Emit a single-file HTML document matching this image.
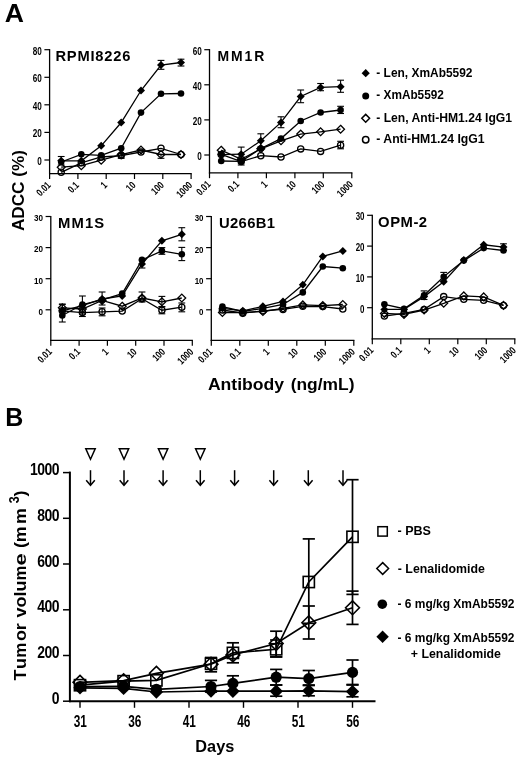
<!DOCTYPE html>
<html><head><meta charset="utf-8"><title>Figure</title>
<style>
html,body{margin:0;padding:0;background:#fff;}
body{width:520px;height:757px;overflow:hidden;font-family:"Liberation Sans",sans-serif;}
svg{display:block;filter:grayscale(1);}
</style></head><body>
<svg width="520" height="757" viewBox="0 0 520 757">
<rect width="520" height="757" fill="#fff"/>
<line x1="49.6" y1="49.1" x2="49.6" y2="174.2" stroke="#000" stroke-width="1.3"/>
<line x1="49.0" y1="173.6" x2="191.7" y2="173.6" stroke="#000" stroke-width="1.3"/>
<line x1="44.4" y1="49.7" x2="49.6" y2="49.7" stroke="#000" stroke-width="1.2"/>
<text x="0" y="0" font-family="Liberation Sans, sans-serif" font-size="10.2" font-weight="bold" text-anchor="end" transform="translate(41.8 54.6) scale(0.8 1)">80</text>
<line x1="44.4" y1="77.3" x2="49.6" y2="77.3" stroke="#000" stroke-width="1.2"/>
<text x="0" y="0" font-family="Liberation Sans, sans-serif" font-size="10.2" font-weight="bold" text-anchor="end" transform="translate(41.8 82.2) scale(0.8 1)">60</text>
<line x1="44.4" y1="104.8" x2="49.6" y2="104.8" stroke="#000" stroke-width="1.2"/>
<text x="0" y="0" font-family="Liberation Sans, sans-serif" font-size="10.2" font-weight="bold" text-anchor="end" transform="translate(41.8 109.7) scale(0.8 1)">40</text>
<line x1="44.4" y1="132.4" x2="49.6" y2="132.4" stroke="#000" stroke-width="1.2"/>
<text x="0" y="0" font-family="Liberation Sans, sans-serif" font-size="10.2" font-weight="bold" text-anchor="end" transform="translate(41.8 137.3) scale(0.8 1)">20</text>
<line x1="44.4" y1="160.0" x2="49.6" y2="160.0" stroke="#000" stroke-width="1.2"/>
<text x="0" y="0" font-family="Liberation Sans, sans-serif" font-size="10.2" font-weight="bold" text-anchor="end" transform="translate(41.8 164.9) scale(0.8 1)">0</text>
<line x1="49.6" y1="173.6" x2="49.6" y2="179.0" stroke="#000" stroke-width="1.2"/>
<text x="0" y="0" font-family="Liberation Sans, sans-serif" font-size="10.3" font-weight="bold" text-anchor="end" transform="translate(51.4 185.8) rotate(-45) scale(0.77 1)">0.01</text>
<line x1="77.9" y1="173.6" x2="77.9" y2="179.0" stroke="#000" stroke-width="1.2"/>
<text x="0" y="0" font-family="Liberation Sans, sans-serif" font-size="10.3" font-weight="bold" text-anchor="end" transform="translate(79.7 185.8) rotate(-45) scale(0.77 1)">0.1</text>
<line x1="106.2" y1="173.6" x2="106.2" y2="179.0" stroke="#000" stroke-width="1.2"/>
<text x="0" y="0" font-family="Liberation Sans, sans-serif" font-size="10.3" font-weight="bold" text-anchor="end" transform="translate(108.0 185.8) rotate(-45) scale(0.77 1)">1</text>
<line x1="134.5" y1="173.6" x2="134.5" y2="179.0" stroke="#000" stroke-width="1.2"/>
<text x="0" y="0" font-family="Liberation Sans, sans-serif" font-size="10.3" font-weight="bold" text-anchor="end" transform="translate(136.3 185.8) rotate(-45) scale(0.77 1)">10</text>
<line x1="162.8" y1="173.6" x2="162.8" y2="179.0" stroke="#000" stroke-width="1.2"/>
<text x="0" y="0" font-family="Liberation Sans, sans-serif" font-size="10.3" font-weight="bold" text-anchor="end" transform="translate(164.6 185.8) rotate(-45) scale(0.77 1)">100</text>
<line x1="191.1" y1="173.6" x2="191.1" y2="179.0" stroke="#000" stroke-width="1.2"/>
<text x="0" y="0" font-family="Liberation Sans, sans-serif" font-size="10.3" font-weight="bold" text-anchor="end" transform="translate(192.9 185.8) rotate(-45) scale(0.77 1)">1000</text>
<text x="0" y="0" font-family="Liberation Sans, sans-serif" font-size="14.7" font-weight="bold" letter-spacing="0.793" transform="translate(55.40 60.90) scale(1.0 1)">RPMI8226</text>
<line x1="121.2" y1="153.5" x2="121.2" y2="158.3" stroke="#000" stroke-width="1.1"/>
<line x1="117.8" y1="153.5" x2="124.6" y2="153.5" stroke="#000" stroke-width="1.1"/>
<line x1="117.8" y1="158.3" x2="124.6" y2="158.3" stroke="#000" stroke-width="1.1"/>
<polyline points="61.2,172.3 81.3,162.8 101.2,157.0 121.2,155.6 141.0,152.0 161.0,148.3 181.0,154.5" fill="none" stroke="#000" stroke-width="1.3"/>
<circle cx="61.2" cy="172.3" r="3.1" fill="none" stroke="#000" stroke-width="1.3"/>
<circle cx="81.3" cy="162.8" r="3.1" fill="none" stroke="#000" stroke-width="1.3"/>
<circle cx="101.2" cy="157.0" r="3.1" fill="none" stroke="#000" stroke-width="1.3"/>
<circle cx="121.2" cy="155.6" r="3.1" fill="none" stroke="#000" stroke-width="1.3"/>
<circle cx="141.0" cy="152.0" r="3.1" fill="none" stroke="#000" stroke-width="1.3"/>
<circle cx="161.0" cy="148.3" r="3.1" fill="none" stroke="#000" stroke-width="1.3"/>
<circle cx="181.0" cy="154.5" r="3.1" fill="none" stroke="#000" stroke-width="1.3"/>
<line x1="161.0" y1="154.5" x2="161.0" y2="158.3" stroke="#000" stroke-width="1.1"/>
<line x1="157.6" y1="154.5" x2="164.4" y2="154.5" stroke="#000" stroke-width="1.1"/>
<line x1="157.6" y1="158.3" x2="164.4" y2="158.3" stroke="#000" stroke-width="1.1"/>
<polyline points="61.2,167.2 81.3,165.7 101.2,160.2 121.2,154.6 141.0,150.0 161.0,154.5 181.0,154.5" fill="none" stroke="#000" stroke-width="1.3"/>
<path d="M61.2 163.3L65.1 167.2L61.2 171.1L57.3 167.2Z" fill="none" stroke="#000" stroke-width="1.3"/>
<path d="M81.3 161.8L85.2 165.7L81.3 169.6L77.4 165.7Z" fill="none" stroke="#000" stroke-width="1.3"/>
<path d="M101.2 156.3L105.1 160.2L101.2 164.1L97.3 160.2Z" fill="none" stroke="#000" stroke-width="1.3"/>
<path d="M121.2 150.7L125.1 154.6L121.2 158.5L117.3 154.6Z" fill="none" stroke="#000" stroke-width="1.3"/>
<path d="M141.0 146.1L144.9 150.0L141.0 153.9L137.1 150.0Z" fill="none" stroke="#000" stroke-width="1.3"/>
<path d="M161.0 150.6L164.9 154.5L161.0 158.4L157.1 154.5Z" fill="none" stroke="#000" stroke-width="1.3"/>
<path d="M181.0 150.6L184.9 154.5L181.0 158.4L177.1 154.5Z" fill="none" stroke="#000" stroke-width="1.3"/>
<polyline points="61.2,162.0 81.3,154.3 101.2,155.4 121.2,148.2 141.0,112.6 161.0,93.8 181.0,93.5" fill="none" stroke="#000" stroke-width="1.3"/>
<circle cx="61.2" cy="162.0" r="3.3" fill="#000"/>
<circle cx="81.3" cy="154.3" r="3.3" fill="#000"/>
<circle cx="101.2" cy="155.4" r="3.3" fill="#000"/>
<circle cx="121.2" cy="148.2" r="3.3" fill="#000"/>
<circle cx="141.0" cy="112.6" r="3.3" fill="#000"/>
<circle cx="161.0" cy="93.8" r="3.3" fill="#000"/>
<circle cx="181.0" cy="93.5" r="3.3" fill="#000"/>
<line x1="61.2" y1="156.5" x2="61.2" y2="165.0" stroke="#000" stroke-width="1.1"/>
<line x1="57.8" y1="156.5" x2="64.6" y2="156.5" stroke="#000" stroke-width="1.1"/>
<line x1="57.8" y1="165.0" x2="64.6" y2="165.0" stroke="#000" stroke-width="1.1"/>
<line x1="161.0" y1="60.4" x2="161.0" y2="69.3" stroke="#000" stroke-width="1.1"/>
<line x1="157.6" y1="60.4" x2="164.4" y2="60.4" stroke="#000" stroke-width="1.1"/>
<line x1="157.6" y1="69.3" x2="164.4" y2="69.3" stroke="#000" stroke-width="1.1"/>
<line x1="181.0" y1="59.2" x2="181.0" y2="66.0" stroke="#000" stroke-width="1.1"/>
<line x1="177.6" y1="59.2" x2="184.4" y2="59.2" stroke="#000" stroke-width="1.1"/>
<line x1="177.6" y1="66.0" x2="184.4" y2="66.0" stroke="#000" stroke-width="1.1"/>
<polyline points="61.2,160.8 81.3,160.8 101.2,145.8 121.2,122.5 141.0,90.5 161.0,65.0 181.0,62.5" fill="none" stroke="#000" stroke-width="1.3"/>
<path d="M61.2 156.8L65.2 160.8L61.2 164.8L57.2 160.8Z" fill="#000"/>
<path d="M81.3 156.8L85.3 160.8L81.3 164.8L77.3 160.8Z" fill="#000"/>
<path d="M101.2 141.8L105.2 145.8L101.2 149.8L97.2 145.8Z" fill="#000"/>
<path d="M121.2 118.5L125.2 122.5L121.2 126.5L117.2 122.5Z" fill="#000"/>
<path d="M141.0 86.5L145.0 90.5L141.0 94.5L137.0 90.5Z" fill="#000"/>
<path d="M161.0 61.0L165.0 65.0L161.0 69.0L157.0 65.0Z" fill="#000"/>
<path d="M181.0 58.5L185.0 62.5L181.0 66.5L177.0 62.5Z" fill="#000"/>
<line x1="209.5" y1="49.1" x2="209.5" y2="173.4" stroke="#000" stroke-width="1.3"/>
<line x1="208.9" y1="172.8" x2="352.4" y2="172.8" stroke="#000" stroke-width="1.3"/>
<line x1="204.3" y1="49.7" x2="209.5" y2="49.7" stroke="#000" stroke-width="1.2"/>
<text x="0" y="0" font-family="Liberation Sans, sans-serif" font-size="10.2" font-weight="bold" text-anchor="end" transform="translate(201.7 54.6) scale(0.8 1)">60</text>
<line x1="204.3" y1="84.8" x2="209.5" y2="84.8" stroke="#000" stroke-width="1.2"/>
<text x="0" y="0" font-family="Liberation Sans, sans-serif" font-size="10.2" font-weight="bold" text-anchor="end" transform="translate(201.7 89.7) scale(0.8 1)">40</text>
<line x1="204.3" y1="119.9" x2="209.5" y2="119.9" stroke="#000" stroke-width="1.2"/>
<text x="0" y="0" font-family="Liberation Sans, sans-serif" font-size="10.2" font-weight="bold" text-anchor="end" transform="translate(201.7 124.8) scale(0.8 1)">20</text>
<line x1="204.3" y1="155.0" x2="209.5" y2="155.0" stroke="#000" stroke-width="1.2"/>
<text x="0" y="0" font-family="Liberation Sans, sans-serif" font-size="10.2" font-weight="bold" text-anchor="end" transform="translate(201.7 159.9) scale(0.8 1)">0</text>
<line x1="209.5" y1="172.8" x2="209.5" y2="178.2" stroke="#000" stroke-width="1.2"/>
<text x="0" y="0" font-family="Liberation Sans, sans-serif" font-size="10.3" font-weight="bold" text-anchor="end" transform="translate(211.3 185.0) rotate(-45) scale(0.77 1)">0.01</text>
<line x1="237.9" y1="172.8" x2="237.9" y2="178.2" stroke="#000" stroke-width="1.2"/>
<text x="0" y="0" font-family="Liberation Sans, sans-serif" font-size="10.3" font-weight="bold" text-anchor="end" transform="translate(239.8 185.0) rotate(-45) scale(0.77 1)">0.1</text>
<line x1="266.4" y1="172.8" x2="266.4" y2="178.2" stroke="#000" stroke-width="1.2"/>
<text x="0" y="0" font-family="Liberation Sans, sans-serif" font-size="10.3" font-weight="bold" text-anchor="end" transform="translate(268.2 185.0) rotate(-45) scale(0.77 1)">1</text>
<line x1="294.9" y1="172.8" x2="294.9" y2="178.2" stroke="#000" stroke-width="1.2"/>
<text x="0" y="0" font-family="Liberation Sans, sans-serif" font-size="10.3" font-weight="bold" text-anchor="end" transform="translate(296.7 185.0) rotate(-45) scale(0.77 1)">10</text>
<line x1="323.3" y1="172.8" x2="323.3" y2="178.2" stroke="#000" stroke-width="1.2"/>
<text x="0" y="0" font-family="Liberation Sans, sans-serif" font-size="10.3" font-weight="bold" text-anchor="end" transform="translate(325.1 185.0) rotate(-45) scale(0.77 1)">100</text>
<line x1="351.8" y1="172.8" x2="351.8" y2="178.2" stroke="#000" stroke-width="1.2"/>
<text x="0" y="0" font-family="Liberation Sans, sans-serif" font-size="10.3" font-weight="bold" text-anchor="end" transform="translate(353.6 185.0) rotate(-45) scale(0.77 1)">1000</text>
<text x="0" y="0" font-family="Liberation Sans, sans-serif" font-size="14.7" font-weight="bold" letter-spacing="2.064" transform="translate(217.40 61.10) scale(0.95 1)">MM1R</text>
<line x1="340.6" y1="141.3" x2="340.6" y2="148.8" stroke="#000" stroke-width="1.1"/>
<line x1="337.2" y1="141.3" x2="344.0" y2="141.3" stroke="#000" stroke-width="1.1"/>
<line x1="337.2" y1="148.8" x2="344.0" y2="148.8" stroke="#000" stroke-width="1.1"/>
<polyline points="221.2,154.4 241.2,161.6 260.8,155.7 281.0,157.0 300.7,148.9 320.6,151.4 340.6,145.2" fill="none" stroke="#000" stroke-width="1.3"/>
<circle cx="221.2" cy="154.4" r="3.1" fill="none" stroke="#000" stroke-width="1.3"/>
<circle cx="241.2" cy="161.6" r="3.1" fill="none" stroke="#000" stroke-width="1.3"/>
<circle cx="260.8" cy="155.7" r="3.1" fill="none" stroke="#000" stroke-width="1.3"/>
<circle cx="281.0" cy="157.0" r="3.1" fill="none" stroke="#000" stroke-width="1.3"/>
<circle cx="300.7" cy="148.9" r="3.1" fill="none" stroke="#000" stroke-width="1.3"/>
<circle cx="320.6" cy="151.4" r="3.1" fill="none" stroke="#000" stroke-width="1.3"/>
<circle cx="340.6" cy="145.2" r="3.1" fill="none" stroke="#000" stroke-width="1.3"/>
<polyline points="221.2,150.2 241.2,159.3 260.8,148.8 281.0,140.8 300.7,134.1 320.6,131.8 340.6,129.2" fill="none" stroke="#000" stroke-width="1.3"/>
<path d="M221.2 146.3L225.1 150.2L221.2 154.1L217.3 150.2Z" fill="none" stroke="#000" stroke-width="1.3"/>
<path d="M241.2 155.4L245.1 159.3L241.2 163.2L237.3 159.3Z" fill="none" stroke="#000" stroke-width="1.3"/>
<path d="M260.8 144.9L264.7 148.8L260.8 152.7L256.9 148.8Z" fill="none" stroke="#000" stroke-width="1.3"/>
<path d="M281.0 136.9L284.9 140.8L281.0 144.7L277.1 140.8Z" fill="none" stroke="#000" stroke-width="1.3"/>
<path d="M300.7 130.2L304.6 134.1L300.7 138.0L296.8 134.1Z" fill="none" stroke="#000" stroke-width="1.3"/>
<path d="M320.6 127.9L324.5 131.8L320.6 135.7L316.7 131.8Z" fill="none" stroke="#000" stroke-width="1.3"/>
<path d="M340.6 125.3L344.5 129.2L340.6 133.1L336.7 129.2Z" fill="none" stroke="#000" stroke-width="1.3"/>
<line x1="340.6" y1="106.3" x2="340.6" y2="113.5" stroke="#000" stroke-width="1.1"/>
<line x1="337.2" y1="106.3" x2="344.0" y2="106.3" stroke="#000" stroke-width="1.1"/>
<line x1="337.2" y1="113.5" x2="344.0" y2="113.5" stroke="#000" stroke-width="1.1"/>
<line x1="241.2" y1="157.0" x2="241.2" y2="165.0" stroke="#000" stroke-width="1.1"/>
<line x1="237.8" y1="157.0" x2="244.6" y2="157.0" stroke="#000" stroke-width="1.1"/>
<line x1="237.8" y1="165.0" x2="244.6" y2="165.0" stroke="#000" stroke-width="1.1"/>
<polyline points="221.2,161.0 241.2,161.3 260.8,148.5 281.0,138.6 300.7,121.0 320.6,112.5 340.6,110.0" fill="none" stroke="#000" stroke-width="1.3"/>
<circle cx="221.2" cy="161.0" r="3.3" fill="#000"/>
<circle cx="241.2" cy="161.3" r="3.3" fill="#000"/>
<circle cx="260.8" cy="148.5" r="3.3" fill="#000"/>
<circle cx="281.0" cy="138.6" r="3.3" fill="#000"/>
<circle cx="300.7" cy="121.0" r="3.3" fill="#000"/>
<circle cx="320.6" cy="112.5" r="3.3" fill="#000"/>
<circle cx="340.6" cy="110.0" r="3.3" fill="#000"/>
<line x1="241.2" y1="147.1" x2="241.2" y2="160.0" stroke="#000" stroke-width="1.1"/>
<line x1="237.8" y1="147.1" x2="244.6" y2="147.1" stroke="#000" stroke-width="1.1"/>
<line x1="237.8" y1="160.0" x2="244.6" y2="160.0" stroke="#000" stroke-width="1.1"/>
<line x1="260.8" y1="133.8" x2="260.8" y2="147.0" stroke="#000" stroke-width="1.1"/>
<line x1="257.4" y1="133.8" x2="264.2" y2="133.8" stroke="#000" stroke-width="1.1"/>
<line x1="257.4" y1="147.0" x2="264.2" y2="147.0" stroke="#000" stroke-width="1.1"/>
<line x1="281.0" y1="116.8" x2="281.0" y2="127.7" stroke="#000" stroke-width="1.1"/>
<line x1="277.6" y1="116.8" x2="284.4" y2="116.8" stroke="#000" stroke-width="1.1"/>
<line x1="277.6" y1="127.7" x2="284.4" y2="127.7" stroke="#000" stroke-width="1.1"/>
<line x1="300.7" y1="90.0" x2="300.7" y2="102.7" stroke="#000" stroke-width="1.1"/>
<line x1="297.3" y1="90.0" x2="304.1" y2="90.0" stroke="#000" stroke-width="1.1"/>
<line x1="297.3" y1="102.7" x2="304.1" y2="102.7" stroke="#000" stroke-width="1.1"/>
<line x1="320.6" y1="83.5" x2="320.6" y2="90.7" stroke="#000" stroke-width="1.1"/>
<line x1="317.2" y1="83.5" x2="324.0" y2="83.5" stroke="#000" stroke-width="1.1"/>
<line x1="317.2" y1="90.7" x2="324.0" y2="90.7" stroke="#000" stroke-width="1.1"/>
<line x1="340.6" y1="80.2" x2="340.6" y2="92.3" stroke="#000" stroke-width="1.1"/>
<line x1="337.2" y1="80.2" x2="344.0" y2="80.2" stroke="#000" stroke-width="1.1"/>
<line x1="337.2" y1="92.3" x2="344.0" y2="92.3" stroke="#000" stroke-width="1.1"/>
<polyline points="221.2,154.6 241.2,154.2 260.8,140.8 281.0,122.4 300.7,96.5 320.6,87.4 340.6,86.7" fill="none" stroke="#000" stroke-width="1.3"/>
<path d="M221.2 150.6L225.2 154.6L221.2 158.6L217.2 154.6Z" fill="#000"/>
<path d="M241.2 150.2L245.2 154.2L241.2 158.2L237.2 154.2Z" fill="#000"/>
<path d="M260.8 136.8L264.8 140.8L260.8 144.8L256.8 140.8Z" fill="#000"/>
<path d="M281.0 118.4L285.0 122.4L281.0 126.4L277.0 122.4Z" fill="#000"/>
<path d="M300.7 92.5L304.7 96.5L300.7 100.5L296.7 96.5Z" fill="#000"/>
<path d="M320.6 83.4L324.6 87.4L320.6 91.4L316.6 87.4Z" fill="#000"/>
<path d="M340.6 82.7L344.6 86.7L340.6 90.7L336.6 86.7Z" fill="#000"/>
<line x1="50.8" y1="215.9" x2="50.8" y2="340.9" stroke="#000" stroke-width="1.3"/>
<line x1="50.2" y1="340.3" x2="192.9" y2="340.3" stroke="#000" stroke-width="1.3"/>
<line x1="45.6" y1="216.5" x2="50.8" y2="216.5" stroke="#000" stroke-width="1.2"/>
<text x="0" y="0" font-family="Liberation Sans, sans-serif" font-size="9.4" font-weight="bold" text-anchor="end" transform="translate(43.0 221.3) scale(0.86 1)">30</text>
<line x1="45.6" y1="247.6" x2="50.8" y2="247.6" stroke="#000" stroke-width="1.2"/>
<text x="0" y="0" font-family="Liberation Sans, sans-serif" font-size="9.4" font-weight="bold" text-anchor="end" transform="translate(43.0 252.4) scale(0.86 1)">20</text>
<line x1="45.6" y1="278.7" x2="50.8" y2="278.7" stroke="#000" stroke-width="1.2"/>
<text x="0" y="0" font-family="Liberation Sans, sans-serif" font-size="9.4" font-weight="bold" text-anchor="end" transform="translate(43.0 283.5) scale(0.86 1)">10</text>
<line x1="45.6" y1="309.8" x2="50.8" y2="309.8" stroke="#000" stroke-width="1.2"/>
<text x="0" y="0" font-family="Liberation Sans, sans-serif" font-size="9.4" font-weight="bold" text-anchor="end" transform="translate(43.0 314.6) scale(0.86 1)">0</text>
<line x1="50.8" y1="340.3" x2="50.8" y2="345.7" stroke="#000" stroke-width="1.2"/>
<text x="0" y="0" font-family="Liberation Sans, sans-serif" font-size="10.3" font-weight="bold" text-anchor="end" transform="translate(52.6 352.5) rotate(-45) scale(0.77 1)">0.01</text>
<line x1="79.1" y1="340.3" x2="79.1" y2="345.7" stroke="#000" stroke-width="1.2"/>
<text x="0" y="0" font-family="Liberation Sans, sans-serif" font-size="10.3" font-weight="bold" text-anchor="end" transform="translate(80.9 352.5) rotate(-45) scale(0.77 1)">0.1</text>
<line x1="107.4" y1="340.3" x2="107.4" y2="345.7" stroke="#000" stroke-width="1.2"/>
<text x="0" y="0" font-family="Liberation Sans, sans-serif" font-size="10.3" font-weight="bold" text-anchor="end" transform="translate(109.2 352.5) rotate(-45) scale(0.77 1)">1</text>
<line x1="135.7" y1="340.3" x2="135.7" y2="345.7" stroke="#000" stroke-width="1.2"/>
<text x="0" y="0" font-family="Liberation Sans, sans-serif" font-size="10.3" font-weight="bold" text-anchor="end" transform="translate(137.5 352.5) rotate(-45) scale(0.77 1)">10</text>
<line x1="164.0" y1="340.3" x2="164.0" y2="345.7" stroke="#000" stroke-width="1.2"/>
<text x="0" y="0" font-family="Liberation Sans, sans-serif" font-size="10.3" font-weight="bold" text-anchor="end" transform="translate(165.8 352.5) rotate(-45) scale(0.77 1)">100</text>
<line x1="192.3" y1="340.3" x2="192.3" y2="345.7" stroke="#000" stroke-width="1.2"/>
<text x="0" y="0" font-family="Liberation Sans, sans-serif" font-size="10.3" font-weight="bold" text-anchor="end" transform="translate(194.1 352.5) rotate(-45) scale(0.77 1)">1000</text>
<text x="0" y="0" font-family="Liberation Sans, sans-serif" font-size="14" font-weight="bold" letter-spacing="1.108" transform="translate(57.90 227.50) scale(1.06 1)">MM1S</text>
<line x1="82.4" y1="309.0" x2="82.4" y2="316.5" stroke="#000" stroke-width="1.1"/>
<line x1="79.0" y1="309.0" x2="85.8" y2="309.0" stroke="#000" stroke-width="1.1"/>
<line x1="79.0" y1="316.5" x2="85.8" y2="316.5" stroke="#000" stroke-width="1.1"/>
<line x1="102.1" y1="308.0" x2="102.1" y2="315.8" stroke="#000" stroke-width="1.1"/>
<line x1="98.7" y1="308.0" x2="105.5" y2="308.0" stroke="#000" stroke-width="1.1"/>
<line x1="98.7" y1="315.8" x2="105.5" y2="315.8" stroke="#000" stroke-width="1.1"/>
<line x1="142.0" y1="292.0" x2="142.0" y2="302.0" stroke="#000" stroke-width="1.1"/>
<line x1="138.6" y1="292.0" x2="145.4" y2="292.0" stroke="#000" stroke-width="1.1"/>
<line x1="138.6" y1="302.0" x2="145.4" y2="302.0" stroke="#000" stroke-width="1.1"/>
<line x1="161.9" y1="306.5" x2="161.9" y2="313.8" stroke="#000" stroke-width="1.1"/>
<line x1="158.5" y1="306.5" x2="165.3" y2="306.5" stroke="#000" stroke-width="1.1"/>
<line x1="158.5" y1="313.8" x2="165.3" y2="313.8" stroke="#000" stroke-width="1.1"/>
<line x1="181.8" y1="303.0" x2="181.8" y2="311.8" stroke="#000" stroke-width="1.1"/>
<line x1="178.4" y1="303.0" x2="185.2" y2="303.0" stroke="#000" stroke-width="1.1"/>
<line x1="178.4" y1="311.8" x2="185.2" y2="311.8" stroke="#000" stroke-width="1.1"/>
<polyline points="62.3,310.8 82.4,312.6 102.1,311.8 122.2,311.1 142.0,298.7 161.9,310.2 181.8,307.2" fill="none" stroke="#000" stroke-width="1.3"/>
<circle cx="62.3" cy="310.8" r="3.1" fill="none" stroke="#000" stroke-width="1.3"/>
<circle cx="82.4" cy="312.6" r="3.1" fill="none" stroke="#000" stroke-width="1.3"/>
<circle cx="102.1" cy="311.8" r="3.1" fill="none" stroke="#000" stroke-width="1.3"/>
<circle cx="122.2" cy="311.1" r="3.1" fill="none" stroke="#000" stroke-width="1.3"/>
<circle cx="142.0" cy="298.7" r="3.1" fill="none" stroke="#000" stroke-width="1.3"/>
<circle cx="161.9" cy="310.2" r="3.1" fill="none" stroke="#000" stroke-width="1.3"/>
<circle cx="181.8" cy="307.2" r="3.1" fill="none" stroke="#000" stroke-width="1.3"/>
<line x1="161.9" y1="296.4" x2="161.9" y2="307.0" stroke="#000" stroke-width="1.1"/>
<line x1="158.5" y1="296.4" x2="165.3" y2="296.4" stroke="#000" stroke-width="1.1"/>
<line x1="158.5" y1="307.0" x2="165.3" y2="307.0" stroke="#000" stroke-width="1.1"/>
<line x1="62.3" y1="304.0" x2="62.3" y2="311.5" stroke="#000" stroke-width="1.1"/>
<line x1="58.9" y1="304.0" x2="65.7" y2="304.0" stroke="#000" stroke-width="1.1"/>
<line x1="58.9" y1="311.5" x2="65.7" y2="311.5" stroke="#000" stroke-width="1.1"/>
<polyline points="62.3,307.8 82.4,309.0 102.1,300.4 122.2,306.2 142.0,298.0 161.9,301.8 181.8,298.0" fill="none" stroke="#000" stroke-width="1.3"/>
<path d="M62.3 303.9L66.2 307.8L62.3 311.7L58.4 307.8Z" fill="none" stroke="#000" stroke-width="1.3"/>
<path d="M82.4 305.1L86.3 309.0L82.4 312.9L78.5 309.0Z" fill="none" stroke="#000" stroke-width="1.3"/>
<path d="M102.1 296.5L106.0 300.4L102.1 304.3L98.2 300.4Z" fill="none" stroke="#000" stroke-width="1.3"/>
<path d="M122.2 302.3L126.1 306.2L122.2 310.1L118.3 306.2Z" fill="none" stroke="#000" stroke-width="1.3"/>
<path d="M142.0 294.1L145.9 298.0L142.0 301.9L138.1 298.0Z" fill="none" stroke="#000" stroke-width="1.3"/>
<path d="M161.9 297.9L165.8 301.8L161.9 305.7L158.0 301.8Z" fill="none" stroke="#000" stroke-width="1.3"/>
<path d="M181.8 294.1L185.7 298.0L181.8 301.9L177.9 298.0Z" fill="none" stroke="#000" stroke-width="1.3"/>
<line x1="62.3" y1="304.6" x2="62.3" y2="322.0" stroke="#000" stroke-width="1.1"/>
<line x1="58.9" y1="304.6" x2="65.7" y2="304.6" stroke="#000" stroke-width="1.1"/>
<line x1="58.9" y1="322.0" x2="65.7" y2="322.0" stroke="#000" stroke-width="1.1"/>
<line x1="161.9" y1="247.6" x2="161.9" y2="254.3" stroke="#000" stroke-width="1.1"/>
<line x1="158.5" y1="247.6" x2="165.3" y2="247.6" stroke="#000" stroke-width="1.1"/>
<line x1="158.5" y1="254.3" x2="165.3" y2="254.3" stroke="#000" stroke-width="1.1"/>
<line x1="181.8" y1="247.4" x2="181.8" y2="260.6" stroke="#000" stroke-width="1.1"/>
<line x1="178.4" y1="247.4" x2="185.2" y2="247.4" stroke="#000" stroke-width="1.1"/>
<line x1="178.4" y1="260.6" x2="185.2" y2="260.6" stroke="#000" stroke-width="1.1"/>
<polyline points="62.3,315.5 82.4,304.5 102.1,299.8 122.2,293.6 142.0,259.9 161.9,250.9 181.8,254.3" fill="none" stroke="#000" stroke-width="1.3"/>
<circle cx="62.3" cy="315.5" r="3.3" fill="#000"/>
<circle cx="82.4" cy="304.5" r="3.3" fill="#000"/>
<circle cx="102.1" cy="299.8" r="3.3" fill="#000"/>
<circle cx="122.2" cy="293.6" r="3.3" fill="#000"/>
<circle cx="142.0" cy="259.9" r="3.3" fill="#000"/>
<circle cx="161.9" cy="250.9" r="3.3" fill="#000"/>
<circle cx="181.8" cy="254.3" r="3.3" fill="#000"/>
<line x1="82.4" y1="296.0" x2="82.4" y2="314.0" stroke="#000" stroke-width="1.1"/>
<line x1="79.0" y1="296.0" x2="85.8" y2="296.0" stroke="#000" stroke-width="1.1"/>
<line x1="79.0" y1="314.0" x2="85.8" y2="314.0" stroke="#000" stroke-width="1.1"/>
<line x1="102.1" y1="292.0" x2="102.1" y2="305.0" stroke="#000" stroke-width="1.1"/>
<line x1="98.7" y1="292.0" x2="105.5" y2="292.0" stroke="#000" stroke-width="1.1"/>
<line x1="98.7" y1="305.0" x2="105.5" y2="305.0" stroke="#000" stroke-width="1.1"/>
<line x1="142.0" y1="260.0" x2="142.0" y2="268.0" stroke="#000" stroke-width="1.1"/>
<line x1="138.6" y1="260.0" x2="145.4" y2="260.0" stroke="#000" stroke-width="1.1"/>
<line x1="138.6" y1="268.0" x2="145.4" y2="268.0" stroke="#000" stroke-width="1.1"/>
<line x1="181.8" y1="227.7" x2="181.8" y2="240.8" stroke="#000" stroke-width="1.1"/>
<line x1="178.4" y1="227.7" x2="185.2" y2="227.7" stroke="#000" stroke-width="1.1"/>
<line x1="178.4" y1="240.8" x2="185.2" y2="240.8" stroke="#000" stroke-width="1.1"/>
<polyline points="62.3,310.8 82.4,305.6 102.1,299.0 122.2,295.9 142.0,264.0 161.9,240.8 181.8,234.3" fill="none" stroke="#000" stroke-width="1.3"/>
<path d="M62.3 306.8L66.3 310.8L62.3 314.8L58.3 310.8Z" fill="#000"/>
<path d="M82.4 301.6L86.4 305.6L82.4 309.6L78.4 305.6Z" fill="#000"/>
<path d="M102.1 295.0L106.1 299.0L102.1 303.0L98.1 299.0Z" fill="#000"/>
<path d="M122.2 291.9L126.2 295.9L122.2 299.9L118.2 295.9Z" fill="#000"/>
<path d="M142.0 260.0L146.0 264.0L142.0 268.0L138.0 264.0Z" fill="#000"/>
<path d="M161.9 236.8L165.9 240.8L161.9 244.8L157.9 240.8Z" fill="#000"/>
<path d="M181.8 230.3L185.8 234.3L181.8 238.3L177.8 234.3Z" fill="#000"/>
<line x1="211.3" y1="215.9" x2="211.3" y2="340.9" stroke="#000" stroke-width="1.3"/>
<line x1="210.7" y1="340.3" x2="354.4" y2="340.3" stroke="#000" stroke-width="1.3"/>
<line x1="206.1" y1="216.5" x2="211.3" y2="216.5" stroke="#000" stroke-width="1.2"/>
<text x="0" y="0" font-family="Liberation Sans, sans-serif" font-size="9.7" font-weight="bold" text-anchor="end" transform="translate(203.5 221.4) scale(0.82 1)">30</text>
<line x1="206.1" y1="247.6" x2="211.3" y2="247.6" stroke="#000" stroke-width="1.2"/>
<text x="0" y="0" font-family="Liberation Sans, sans-serif" font-size="9.7" font-weight="bold" text-anchor="end" transform="translate(203.5 252.5) scale(0.82 1)">20</text>
<line x1="206.1" y1="278.7" x2="211.3" y2="278.7" stroke="#000" stroke-width="1.2"/>
<text x="0" y="0" font-family="Liberation Sans, sans-serif" font-size="9.7" font-weight="bold" text-anchor="end" transform="translate(203.5 283.6) scale(0.82 1)">10</text>
<line x1="206.1" y1="309.8" x2="211.3" y2="309.8" stroke="#000" stroke-width="1.2"/>
<text x="0" y="0" font-family="Liberation Sans, sans-serif" font-size="9.7" font-weight="bold" text-anchor="end" transform="translate(203.5 314.7) scale(0.82 1)">0</text>
<line x1="211.3" y1="340.3" x2="211.3" y2="345.7" stroke="#000" stroke-width="1.2"/>
<text x="0" y="0" font-family="Liberation Sans, sans-serif" font-size="10.3" font-weight="bold" text-anchor="end" transform="translate(213.1 352.5) rotate(-45) scale(0.77 1)">0.01</text>
<line x1="239.8" y1="340.3" x2="239.8" y2="345.7" stroke="#000" stroke-width="1.2"/>
<text x="0" y="0" font-family="Liberation Sans, sans-serif" font-size="10.3" font-weight="bold" text-anchor="end" transform="translate(241.6 352.5) rotate(-45) scale(0.77 1)">0.1</text>
<line x1="268.3" y1="340.3" x2="268.3" y2="345.7" stroke="#000" stroke-width="1.2"/>
<text x="0" y="0" font-family="Liberation Sans, sans-serif" font-size="10.3" font-weight="bold" text-anchor="end" transform="translate(270.1 352.5) rotate(-45) scale(0.77 1)">1</text>
<line x1="296.8" y1="340.3" x2="296.8" y2="345.7" stroke="#000" stroke-width="1.2"/>
<text x="0" y="0" font-family="Liberation Sans, sans-serif" font-size="10.3" font-weight="bold" text-anchor="end" transform="translate(298.6 352.5) rotate(-45) scale(0.77 1)">10</text>
<line x1="325.3" y1="340.3" x2="325.3" y2="345.7" stroke="#000" stroke-width="1.2"/>
<text x="0" y="0" font-family="Liberation Sans, sans-serif" font-size="10.3" font-weight="bold" text-anchor="end" transform="translate(327.1 352.5) rotate(-45) scale(0.77 1)">100</text>
<line x1="353.8" y1="340.3" x2="353.8" y2="345.7" stroke="#000" stroke-width="1.2"/>
<text x="0" y="0" font-family="Liberation Sans, sans-serif" font-size="10.3" font-weight="bold" text-anchor="end" transform="translate(355.6 352.5) rotate(-45) scale(0.77 1)">1000</text>
<text x="0" y="0" font-family="Liberation Sans, sans-serif" font-size="14.8" font-weight="bold" letter-spacing="0.380" transform="translate(218.90 227.80) scale(1.0 1)">U266B1</text>
<polyline points="222.4,310.0 242.8,313.2 262.9,310.8 283.0,309.4 302.8,306.3 322.8,306.6 342.8,309.0" fill="none" stroke="#000" stroke-width="1.3"/>
<circle cx="222.4" cy="310.0" r="3.1" fill="none" stroke="#000" stroke-width="1.3"/>
<circle cx="242.8" cy="313.2" r="3.1" fill="none" stroke="#000" stroke-width="1.3"/>
<circle cx="262.9" cy="310.8" r="3.1" fill="none" stroke="#000" stroke-width="1.3"/>
<circle cx="283.0" cy="309.4" r="3.1" fill="none" stroke="#000" stroke-width="1.3"/>
<circle cx="302.8" cy="306.3" r="3.1" fill="none" stroke="#000" stroke-width="1.3"/>
<circle cx="322.8" cy="306.6" r="3.1" fill="none" stroke="#000" stroke-width="1.3"/>
<circle cx="342.8" cy="309.0" r="3.1" fill="none" stroke="#000" stroke-width="1.3"/>
<polyline points="222.4,312.5 242.8,312.5 262.9,311.5 283.0,308.3 302.8,304.9 322.8,305.6 342.8,304.5" fill="none" stroke="#000" stroke-width="1.3"/>
<path d="M222.4 308.6L226.3 312.5L222.4 316.4L218.5 312.5Z" fill="none" stroke="#000" stroke-width="1.3"/>
<path d="M242.8 308.6L246.7 312.5L242.8 316.4L238.9 312.5Z" fill="none" stroke="#000" stroke-width="1.3"/>
<path d="M262.9 307.6L266.8 311.5L262.9 315.4L259.0 311.5Z" fill="none" stroke="#000" stroke-width="1.3"/>
<path d="M283.0 304.4L286.9 308.3L283.0 312.2L279.1 308.3Z" fill="none" stroke="#000" stroke-width="1.3"/>
<path d="M302.8 301.0L306.7 304.9L302.8 308.8L298.9 304.9Z" fill="none" stroke="#000" stroke-width="1.3"/>
<path d="M322.8 301.7L326.7 305.6L322.8 309.5L318.9 305.6Z" fill="none" stroke="#000" stroke-width="1.3"/>
<path d="M342.8 300.6L346.7 304.5L342.8 308.4L338.9 304.5Z" fill="none" stroke="#000" stroke-width="1.3"/>
<polyline points="222.4,306.6 242.8,311.5 262.9,308.3 283.0,304.5 302.8,292.4 322.8,266.5 342.8,268.2" fill="none" stroke="#000" stroke-width="1.3"/>
<circle cx="222.4" cy="306.6" r="3.3" fill="#000"/>
<circle cx="242.8" cy="311.5" r="3.3" fill="#000"/>
<circle cx="262.9" cy="308.3" r="3.3" fill="#000"/>
<circle cx="283.0" cy="304.5" r="3.3" fill="#000"/>
<circle cx="302.8" cy="292.4" r="3.3" fill="#000"/>
<circle cx="322.8" cy="266.5" r="3.3" fill="#000"/>
<circle cx="342.8" cy="268.2" r="3.3" fill="#000"/>
<polyline points="222.4,308.3 242.8,310.8 262.9,306.3 283.0,301.4 302.8,284.8 322.8,256.4 342.8,250.9" fill="none" stroke="#000" stroke-width="1.3"/>
<path d="M222.4 304.3L226.4 308.3L222.4 312.3L218.4 308.3Z" fill="#000"/>
<path d="M242.8 306.8L246.8 310.8L242.8 314.8L238.8 310.8Z" fill="#000"/>
<path d="M262.9 302.3L266.9 306.3L262.9 310.3L258.9 306.3Z" fill="#000"/>
<path d="M283.0 297.4L287.0 301.4L283.0 305.4L279.0 301.4Z" fill="#000"/>
<path d="M302.8 280.8L306.8 284.8L302.8 288.8L298.8 284.8Z" fill="#000"/>
<path d="M322.8 252.4L326.8 256.4L322.8 260.4L318.8 256.4Z" fill="#000"/>
<path d="M342.8 246.9L346.8 250.9L342.8 254.9L338.8 250.9Z" fill="#000"/>
<line x1="372.3" y1="214.7" x2="372.3" y2="339.4" stroke="#000" stroke-width="1.3"/>
<line x1="371.7" y1="338.8" x2="515.4" y2="338.8" stroke="#000" stroke-width="1.3"/>
<line x1="367.1" y1="215.3" x2="372.3" y2="215.3" stroke="#000" stroke-width="1.2"/>
<text x="0" y="0" font-family="Liberation Sans, sans-serif" font-size="10.2" font-weight="bold" text-anchor="end" transform="translate(364.5 220.3) scale(0.78 1)">30</text>
<line x1="367.1" y1="246.1" x2="372.3" y2="246.1" stroke="#000" stroke-width="1.2"/>
<text x="0" y="0" font-family="Liberation Sans, sans-serif" font-size="10.2" font-weight="bold" text-anchor="end" transform="translate(364.5 251.1) scale(0.78 1)">20</text>
<line x1="367.1" y1="276.9" x2="372.3" y2="276.9" stroke="#000" stroke-width="1.2"/>
<text x="0" y="0" font-family="Liberation Sans, sans-serif" font-size="10.2" font-weight="bold" text-anchor="end" transform="translate(364.5 281.9) scale(0.78 1)">10</text>
<line x1="367.1" y1="307.7" x2="372.3" y2="307.7" stroke="#000" stroke-width="1.2"/>
<text x="0" y="0" font-family="Liberation Sans, sans-serif" font-size="10.2" font-weight="bold" text-anchor="end" transform="translate(364.5 312.7) scale(0.78 1)">0</text>
<line x1="372.3" y1="338.8" x2="372.3" y2="344.2" stroke="#000" stroke-width="1.2"/>
<text x="0" y="0" font-family="Liberation Sans, sans-serif" font-size="10.3" font-weight="bold" text-anchor="end" transform="translate(374.1 351.0) rotate(-45) scale(0.77 1)">0.01</text>
<line x1="400.8" y1="338.8" x2="400.8" y2="344.2" stroke="#000" stroke-width="1.2"/>
<text x="0" y="0" font-family="Liberation Sans, sans-serif" font-size="10.3" font-weight="bold" text-anchor="end" transform="translate(402.6 351.0) rotate(-45) scale(0.77 1)">0.1</text>
<line x1="429.3" y1="338.8" x2="429.3" y2="344.2" stroke="#000" stroke-width="1.2"/>
<text x="0" y="0" font-family="Liberation Sans, sans-serif" font-size="10.3" font-weight="bold" text-anchor="end" transform="translate(431.1 351.0) rotate(-45) scale(0.77 1)">1</text>
<line x1="457.8" y1="338.8" x2="457.8" y2="344.2" stroke="#000" stroke-width="1.2"/>
<text x="0" y="0" font-family="Liberation Sans, sans-serif" font-size="10.3" font-weight="bold" text-anchor="end" transform="translate(459.6 351.0) rotate(-45) scale(0.77 1)">10</text>
<line x1="486.3" y1="338.8" x2="486.3" y2="344.2" stroke="#000" stroke-width="1.2"/>
<text x="0" y="0" font-family="Liberation Sans, sans-serif" font-size="10.3" font-weight="bold" text-anchor="end" transform="translate(488.1 351.0) rotate(-45) scale(0.77 1)">100</text>
<line x1="514.8" y1="338.8" x2="514.8" y2="344.2" stroke="#000" stroke-width="1.2"/>
<text x="0" y="0" font-family="Liberation Sans, sans-serif" font-size="10.3" font-weight="bold" text-anchor="end" transform="translate(516.6 351.0) rotate(-45) scale(0.77 1)">1000</text>
<text x="0" y="0" font-family="Liberation Sans, sans-serif" font-size="15.3" font-weight="bold" letter-spacing="0.515" transform="translate(378.10 226.70) scale(0.97 1)">OPM-2</text>
<polyline points="384.4,316.1 404.0,313.4 424.1,309.4 443.7,296.6 463.8,299.3 483.7,300.3 503.5,305.4" fill="none" stroke="#000" stroke-width="1.3"/>
<circle cx="384.4" cy="316.1" r="3.1" fill="none" stroke="#000" stroke-width="1.3"/>
<circle cx="404.0" cy="313.4" r="3.1" fill="none" stroke="#000" stroke-width="1.3"/>
<circle cx="424.1" cy="309.4" r="3.1" fill="none" stroke="#000" stroke-width="1.3"/>
<circle cx="443.7" cy="296.6" r="3.1" fill="none" stroke="#000" stroke-width="1.3"/>
<circle cx="463.8" cy="299.3" r="3.1" fill="none" stroke="#000" stroke-width="1.3"/>
<circle cx="483.7" cy="300.3" r="3.1" fill="none" stroke="#000" stroke-width="1.3"/>
<circle cx="503.5" cy="305.4" r="3.1" fill="none" stroke="#000" stroke-width="1.3"/>
<polyline points="384.4,313.4 404.0,314.4 424.1,310.0 443.7,303.3 463.8,295.9 483.7,296.9 503.5,305.4" fill="none" stroke="#000" stroke-width="1.3"/>
<path d="M384.4 309.5L388.3 313.4L384.4 317.3L380.5 313.4Z" fill="none" stroke="#000" stroke-width="1.3"/>
<path d="M404.0 310.5L407.9 314.4L404.0 318.3L400.1 314.4Z" fill="none" stroke="#000" stroke-width="1.3"/>
<path d="M424.1 306.1L428.0 310.0L424.1 313.9L420.2 310.0Z" fill="none" stroke="#000" stroke-width="1.3"/>
<path d="M443.7 299.4L447.6 303.3L443.7 307.2L439.8 303.3Z" fill="none" stroke="#000" stroke-width="1.3"/>
<path d="M463.8 292.0L467.7 295.9L463.8 299.8L459.9 295.9Z" fill="none" stroke="#000" stroke-width="1.3"/>
<path d="M483.7 293.0L487.6 296.9L483.7 300.8L479.8 296.9Z" fill="none" stroke="#000" stroke-width="1.3"/>
<path d="M503.5 301.5L507.4 305.4L503.5 309.3L499.6 305.4Z" fill="none" stroke="#000" stroke-width="1.3"/>
<line x1="424.1" y1="290.9" x2="424.1" y2="299.5" stroke="#000" stroke-width="1.1"/>
<line x1="420.7" y1="290.9" x2="427.5" y2="290.9" stroke="#000" stroke-width="1.1"/>
<line x1="420.7" y1="299.5" x2="427.5" y2="299.5" stroke="#000" stroke-width="1.1"/>
<line x1="443.7" y1="272.4" x2="443.7" y2="281.0" stroke="#000" stroke-width="1.1"/>
<line x1="440.3" y1="272.4" x2="447.1" y2="272.4" stroke="#000" stroke-width="1.1"/>
<line x1="440.3" y1="281.0" x2="447.1" y2="281.0" stroke="#000" stroke-width="1.1"/>
<polyline points="384.4,304.3 404.0,308.7 424.1,295.3 443.7,276.7 463.8,260.6 483.7,248.1 503.5,250.5" fill="none" stroke="#000" stroke-width="1.3"/>
<circle cx="384.4" cy="304.3" r="3.3" fill="#000"/>
<circle cx="404.0" cy="308.7" r="3.3" fill="#000"/>
<circle cx="424.1" cy="295.3" r="3.3" fill="#000"/>
<circle cx="443.7" cy="276.7" r="3.3" fill="#000"/>
<circle cx="463.8" cy="260.6" r="3.3" fill="#000"/>
<circle cx="483.7" cy="248.1" r="3.3" fill="#000"/>
<circle cx="503.5" cy="250.5" r="3.3" fill="#000"/>
<line x1="503.5" y1="243.8" x2="503.5" y2="250.4" stroke="#000" stroke-width="1.1"/>
<line x1="500.1" y1="243.8" x2="506.9" y2="243.8" stroke="#000" stroke-width="1.1"/>
<line x1="500.1" y1="250.4" x2="506.9" y2="250.4" stroke="#000" stroke-width="1.1"/>
<polyline points="384.4,309.4 404.0,309.4 424.1,296.6 443.7,281.8 463.8,259.9 483.7,244.8 503.5,247.1" fill="none" stroke="#000" stroke-width="1.3"/>
<path d="M384.4 305.4L388.4 309.4L384.4 313.4L380.4 309.4Z" fill="#000"/>
<path d="M404.0 305.4L408.0 309.4L404.0 313.4L400.0 309.4Z" fill="#000"/>
<path d="M424.1 292.6L428.1 296.6L424.1 300.6L420.1 296.6Z" fill="#000"/>
<path d="M443.7 277.8L447.7 281.8L443.7 285.8L439.7 281.8Z" fill="#000"/>
<path d="M463.8 255.9L467.8 259.9L463.8 263.9L459.8 259.9Z" fill="#000"/>
<path d="M483.7 240.8L487.7 244.8L483.7 248.8L479.7 244.8Z" fill="#000"/>
<path d="M503.5 243.1L507.5 247.1L503.5 251.1L499.5 247.1Z" fill="#000"/>
<path d="M365.7 69.1L369.8 73.2L365.7 77.3L361.6 73.2Z" fill="#000"/>
<text x="376.3" y="76.5" font-family="Liberation Sans, sans-serif" font-size="13.6" font-weight="bold" text-anchor="start" textLength="96.2" lengthAdjust="spacingAndGlyphs" >- Len, XmAb5592</text>
<circle cx="365.7" cy="96.0" r="3.5" fill="#000"/>
<text x="376.3" y="99.0" font-family="Liberation Sans, sans-serif" font-size="13.6" font-weight="bold" text-anchor="start" textLength="67.6" lengthAdjust="spacingAndGlyphs" >- XmAb5592</text>
<path d="M365.7 114.4L369.6 118.3L365.7 122.2L361.8 118.3Z" fill="none" stroke="#000" stroke-width="1.5"/>
<text x="376.3" y="121.7" font-family="Liberation Sans, sans-serif" font-size="13.6" font-weight="bold" text-anchor="start" textLength="135.7" lengthAdjust="spacingAndGlyphs" >- Len, Anti-HM1.24 IgG1</text>
<circle cx="365.7" cy="139.8" r="3.2" fill="none" stroke="#000" stroke-width="1.5"/>
<text x="376.3" y="143.3" font-family="Liberation Sans, sans-serif" font-size="13.6" font-weight="bold" text-anchor="start" textLength="108.3" lengthAdjust="spacingAndGlyphs" >- Anti-HM1.24 IgG1</text>
<text x="4.7" y="22.1" font-family="Liberation Sans, sans-serif" font-size="25" font-weight="bold" text-anchor="start" textLength="19.2" lengthAdjust="spacingAndGlyphs" >A</text>
<text x="24.3" y="231.0" font-family="Liberation Sans, sans-serif" font-size="17.4" font-weight="bold" text-anchor="start" transform="rotate(-90 24.3 231.0)" textLength="80.9" lengthAdjust="spacingAndGlyphs" >ADCC (%)</text>
<text x="207.9" y="390.1" font-family="Liberation Sans, sans-serif" font-size="17.3" font-weight="bold" text-anchor="start" textLength="76.2" lengthAdjust="spacingAndGlyphs" >Antibody</text>
<text x="290.7" y="390.1" font-family="Liberation Sans, sans-serif" font-size="17.3" font-weight="bold" text-anchor="start" textLength="63.8" lengthAdjust="spacingAndGlyphs" >(ng/mL)</text>
<text x="5.2" y="425.8" font-family="Liberation Sans, sans-serif" font-size="25" font-weight="bold" text-anchor="start" >B</text>
<line x1="69.9" y1="471.6" x2="69.9" y2="702.2" stroke="#000" stroke-width="2"/>
<line x1="68.9" y1="701.2" x2="375.5" y2="701.2" stroke="#000" stroke-width="2"/>
<line x1="63.0" y1="701.2" x2="69.9" y2="701.2" stroke="#000" stroke-width="1.5"/>
<text x="-0.65" y="0" font-family="Liberation Sans, sans-serif" font-size="15.9" font-weight="bold" text-anchor="end" letter-spacing="-0.65" transform="translate(59.5 703.7) scale(0.88 1)">0</text>
<line x1="63.0" y1="655.5" x2="69.9" y2="655.5" stroke="#000" stroke-width="1.5"/>
<text x="-0.65" y="0" font-family="Liberation Sans, sans-serif" font-size="15.9" font-weight="bold" text-anchor="end" letter-spacing="-0.65" transform="translate(59.5 658.0) scale(0.88 1)">200</text>
<line x1="63.0" y1="609.8" x2="69.9" y2="609.8" stroke="#000" stroke-width="1.5"/>
<text x="-0.65" y="0" font-family="Liberation Sans, sans-serif" font-size="15.9" font-weight="bold" text-anchor="end" letter-spacing="-0.65" transform="translate(59.5 612.3) scale(0.88 1)">400</text>
<line x1="63.0" y1="564.0" x2="69.9" y2="564.0" stroke="#000" stroke-width="1.5"/>
<text x="-0.65" y="0" font-family="Liberation Sans, sans-serif" font-size="15.9" font-weight="bold" text-anchor="end" letter-spacing="-0.65" transform="translate(59.5 566.5) scale(0.88 1)">600</text>
<line x1="63.0" y1="518.3" x2="69.9" y2="518.3" stroke="#000" stroke-width="1.5"/>
<text x="-0.65" y="0" font-family="Liberation Sans, sans-serif" font-size="15.9" font-weight="bold" text-anchor="end" letter-spacing="-0.65" transform="translate(59.5 520.8) scale(0.88 1)">800</text>
<line x1="63.0" y1="472.6" x2="69.9" y2="472.6" stroke="#000" stroke-width="1.5"/>
<text x="-0.65" y="0" font-family="Liberation Sans, sans-serif" font-size="15.9" font-weight="bold" text-anchor="end" letter-spacing="-0.65" transform="translate(59.5 475.1) scale(0.88 1)">1000</text>
<line x1="80.0" y1="701.2" x2="80.0" y2="707.8" stroke="#000" stroke-width="1.4"/>
<text x="0" y="0" font-family="Liberation Sans, sans-serif" font-size="15.6" font-weight="bold" text-anchor="middle" transform="translate(80.3 726.7) scale(0.76 1)">31</text>
<line x1="134.5" y1="701.2" x2="134.5" y2="707.8" stroke="#000" stroke-width="1.4"/>
<text x="0" y="0" font-family="Liberation Sans, sans-serif" font-size="15.6" font-weight="bold" text-anchor="middle" transform="translate(134.8 726.7) scale(0.76 1)">36</text>
<line x1="189.0" y1="701.2" x2="189.0" y2="707.8" stroke="#000" stroke-width="1.4"/>
<text x="0" y="0" font-family="Liberation Sans, sans-serif" font-size="15.6" font-weight="bold" text-anchor="middle" transform="translate(189.3 726.7) scale(0.76 1)">41</text>
<line x1="243.5" y1="701.2" x2="243.5" y2="707.8" stroke="#000" stroke-width="1.4"/>
<text x="0" y="0" font-family="Liberation Sans, sans-serif" font-size="15.6" font-weight="bold" text-anchor="middle" transform="translate(243.8 726.7) scale(0.76 1)">46</text>
<line x1="298.0" y1="701.2" x2="298.0" y2="707.8" stroke="#000" stroke-width="1.4"/>
<text x="0" y="0" font-family="Liberation Sans, sans-serif" font-size="15.6" font-weight="bold" text-anchor="middle" transform="translate(298.3 726.7) scale(0.76 1)">51</text>
<line x1="352.5" y1="701.2" x2="352.5" y2="707.8" stroke="#000" stroke-width="1.4"/>
<text x="0" y="0" font-family="Liberation Sans, sans-serif" font-size="15.6" font-weight="bold" text-anchor="middle" transform="translate(352.8 726.7) scale(0.76 1)">56</text>
<text x="195.3" y="751.7" font-family="Liberation Sans, sans-serif" font-size="16.5" font-weight="bold" text-anchor="start" textLength="39.0" lengthAdjust="spacingAndGlyphs" >Days</text>
<g transform="translate(25.8 680.7) rotate(-90)">
<text x="0" y="0" font-family="Liberation Sans, sans-serif" font-size="17.4" font-weight="bold" transform="translate(0.1 0.0) scale(1.03 1)">T</text>
<text x="0" y="0" font-family="Liberation Sans, sans-serif" font-size="17.4" font-weight="bold" transform="translate(11.6 0.0) scale(1.03 1)">u</text>
<text x="0" y="0" font-family="Liberation Sans, sans-serif" font-size="17.4" font-weight="bold" transform="translate(22.9 0.0) scale(0.97 1)">m</text>
<text x="0" y="0" font-family="Liberation Sans, sans-serif" font-size="17.4" font-weight="bold" transform="translate(39.6 0.0) scale(1.03 1)">or</text>
<text x="0" y="0" font-family="Liberation Sans, sans-serif" font-size="17.4" font-weight="bold" transform="translate(63.3 0.0) scale(1.03 1)">volu</text>
<text x="0" y="0" font-family="Liberation Sans, sans-serif" font-size="17.4" font-weight="bold" transform="translate(100.3 0.0) scale(0.96 1)">m</text>
<text x="0" y="0" font-family="Liberation Sans, sans-serif" font-size="17.4" font-weight="bold" transform="translate(115.3 0.0) scale(1.27 1)">e</text>
<text x="0" y="0" font-family="Liberation Sans, sans-serif" font-size="17.4" font-weight="bold" transform="translate(132.6 0.0) scale(1.03 1)">(m</text>
<text x="0" y="0" font-family="Liberation Sans, sans-serif" font-size="17.4" font-weight="bold" transform="translate(156.8 0.0) scale(1.03 1)">m</text>
<text x="0" y="0" font-family="Liberation Sans, sans-serif" font-size="14" font-weight="bold" transform="translate(177.4 -7.1) scale(0.9 1)">3</text>
<text x="0" y="0" font-family="Liberation Sans, sans-serif" font-size="17.4" font-weight="bold" transform="translate(184.2 0.0) scale(1.03 1)">)</text>
</g>
<path d="M85.8 448.8L95.2 448.8L90.5 459.2Z" fill="#fff" stroke="#000" stroke-width="1.5" stroke-linejoin="miter"/>
<line x1="90.5" y1="470.2" x2="90.5" y2="485.0" stroke="#000" stroke-width="1.5"/>
<path d="M86.2 480.3L90.5 485.3L94.8 480.3" fill="none" stroke="#000" stroke-width="1.5"/>
<path d="M119.3 448.8L128.7 448.8L124.0 459.2Z" fill="#fff" stroke="#000" stroke-width="1.5" stroke-linejoin="miter"/>
<line x1="124.0" y1="470.2" x2="124.0" y2="485.0" stroke="#000" stroke-width="1.5"/>
<path d="M119.7 480.3L124.0 485.3L128.3 480.3" fill="none" stroke="#000" stroke-width="1.5"/>
<path d="M158.4 448.8L167.8 448.8L163.1 459.2Z" fill="#fff" stroke="#000" stroke-width="1.5" stroke-linejoin="miter"/>
<line x1="163.1" y1="470.2" x2="163.1" y2="485.0" stroke="#000" stroke-width="1.5"/>
<path d="M158.8 480.3L163.1 485.3L167.4 480.3" fill="none" stroke="#000" stroke-width="1.5"/>
<path d="M195.6 448.8L205.0 448.8L200.3 459.2Z" fill="#fff" stroke="#000" stroke-width="1.5" stroke-linejoin="miter"/>
<line x1="200.3" y1="470.2" x2="200.3" y2="485.0" stroke="#000" stroke-width="1.5"/>
<path d="M196.0 480.3L200.3 485.3L204.6 480.3" fill="none" stroke="#000" stroke-width="1.5"/>
<line x1="234.6" y1="470.2" x2="234.6" y2="485.0" stroke="#000" stroke-width="1.5"/>
<path d="M230.3 480.3L234.6 485.3L238.9 480.3" fill="none" stroke="#000" stroke-width="1.5"/>
<line x1="273.7" y1="470.2" x2="273.7" y2="485.0" stroke="#000" stroke-width="1.5"/>
<path d="M269.4 480.3L273.7 485.3L278.0 480.3" fill="none" stroke="#000" stroke-width="1.5"/>
<line x1="308.3" y1="470.2" x2="308.3" y2="485.0" stroke="#000" stroke-width="1.5"/>
<path d="M304.0 480.3L308.3 485.3L312.6 480.3" fill="none" stroke="#000" stroke-width="1.5"/>
<line x1="343.0" y1="470.2" x2="343.0" y2="485.0" stroke="#000" stroke-width="1.5"/>
<path d="M338.7 480.3L343.0 485.3L347.3 480.3" fill="none" stroke="#000" stroke-width="1.5"/>
<line x1="232.9" y1="642.8" x2="232.9" y2="662.8" stroke="#000" stroke-width="1.7"/>
<line x1="226.8" y1="642.8" x2="239.0" y2="642.8" stroke="#000" stroke-width="1.7"/>
<line x1="226.8" y1="662.8" x2="239.0" y2="662.8" stroke="#000" stroke-width="1.7"/>
<line x1="276.2" y1="640.0" x2="276.2" y2="657.0" stroke="#000" stroke-width="1.7"/>
<line x1="270.1" y1="640.0" x2="282.3" y2="640.0" stroke="#000" stroke-width="1.7"/>
<line x1="270.1" y1="657.0" x2="282.3" y2="657.0" stroke="#000" stroke-width="1.7"/>
<line x1="308.8" y1="538.9" x2="308.8" y2="623.3" stroke="#000" stroke-width="1.7"/>
<line x1="302.7" y1="538.9" x2="314.9" y2="538.9" stroke="#000" stroke-width="1.7"/>
<line x1="302.7" y1="623.3" x2="314.9" y2="623.3" stroke="#000" stroke-width="1.7"/>
<line x1="352.5" y1="479.7" x2="352.5" y2="594.4" stroke="#000" stroke-width="1.7"/>
<line x1="346.4" y1="479.7" x2="358.6" y2="479.7" stroke="#000" stroke-width="1.7"/>
<line x1="346.4" y1="594.4" x2="358.6" y2="594.4" stroke="#000" stroke-width="1.7"/>
<line x1="211.0" y1="657.5" x2="211.0" y2="671.8" stroke="#000" stroke-width="1.7"/>
<line x1="204.9" y1="657.5" x2="217.1" y2="657.5" stroke="#000" stroke-width="1.7"/>
<line x1="204.9" y1="671.8" x2="217.1" y2="671.8" stroke="#000" stroke-width="1.7"/>
<polyline points="80.0,685.2 123.6,681.2 156.4,680.4 211.0,663.8 232.9,652.9 276.2,649.3 308.8,582.0 352.5,536.8" fill="none" stroke="#000" stroke-width="1.7"/>
<rect x="74.4" y="679.6" width="11.2" height="11.2" fill="none" stroke="#000" stroke-width="1.6"/>
<rect x="118.0" y="675.6" width="11.2" height="11.2" fill="none" stroke="#000" stroke-width="1.6"/>
<rect x="150.8" y="674.8" width="11.2" height="11.2" fill="none" stroke="#000" stroke-width="1.6"/>
<rect x="205.4" y="658.2" width="11.2" height="11.2" fill="none" stroke="#000" stroke-width="1.6"/>
<rect x="227.3" y="647.3" width="11.2" height="11.2" fill="none" stroke="#000" stroke-width="1.6"/>
<rect x="270.6" y="643.7" width="11.2" height="11.2" fill="none" stroke="#000" stroke-width="1.6"/>
<rect x="303.2" y="576.4" width="11.2" height="11.2" fill="none" stroke="#000" stroke-width="1.6"/>
<rect x="346.9" y="531.2" width="11.2" height="11.2" fill="none" stroke="#000" stroke-width="1.6"/>
<line x1="276.2" y1="631.2" x2="276.2" y2="656.8" stroke="#000" stroke-width="1.7"/>
<line x1="270.1" y1="631.2" x2="282.3" y2="631.2" stroke="#000" stroke-width="1.7"/>
<line x1="270.1" y1="656.8" x2="282.3" y2="656.8" stroke="#000" stroke-width="1.7"/>
<line x1="308.8" y1="606.0" x2="308.8" y2="639.0" stroke="#000" stroke-width="1.7"/>
<line x1="302.7" y1="606.0" x2="314.9" y2="606.0" stroke="#000" stroke-width="1.7"/>
<line x1="302.7" y1="639.0" x2="314.9" y2="639.0" stroke="#000" stroke-width="1.7"/>
<line x1="352.5" y1="591.1" x2="352.5" y2="624.4" stroke="#000" stroke-width="1.7"/>
<line x1="346.4" y1="591.1" x2="358.6" y2="591.1" stroke="#000" stroke-width="1.7"/>
<line x1="346.4" y1="624.4" x2="358.6" y2="624.4" stroke="#000" stroke-width="1.7"/>
<polyline points="80.0,682.3 123.6,680.7 156.4,673.3 211.0,664.2 232.9,654.9 276.2,643.5 308.8,622.7 352.5,607.8" fill="none" stroke="#000" stroke-width="1.7"/>
<path d="M80.0 675.4L86.9 682.3L80.0 689.2L73.1 682.3Z" fill="none" stroke="#000" stroke-width="1.6"/>
<path d="M123.6 673.8L130.5 680.7L123.6 687.6L116.7 680.7Z" fill="none" stroke="#000" stroke-width="1.6"/>
<path d="M156.4 666.4L163.3 673.3L156.4 680.2L149.5 673.3Z" fill="none" stroke="#000" stroke-width="1.6"/>
<path d="M211.0 657.3L217.9 664.2L211.0 671.1L204.1 664.2Z" fill="none" stroke="#000" stroke-width="1.6"/>
<path d="M232.9 648.0L239.8 654.9L232.9 661.8L226.0 654.9Z" fill="none" stroke="#000" stroke-width="1.6"/>
<path d="M276.2 636.6L283.1 643.5L276.2 650.4L269.3 643.5Z" fill="none" stroke="#000" stroke-width="1.6"/>
<path d="M308.8 615.8L315.7 622.7L308.8 629.6L301.9 622.7Z" fill="none" stroke="#000" stroke-width="1.6"/>
<path d="M352.5 600.9L359.4 607.8L352.5 614.7L345.6 607.8Z" fill="none" stroke="#000" stroke-width="1.6"/>
<line x1="211.0" y1="680.4" x2="211.0" y2="692.0" stroke="#000" stroke-width="1.7"/>
<line x1="204.9" y1="680.4" x2="217.1" y2="680.4" stroke="#000" stroke-width="1.7"/>
<line x1="204.9" y1="692.0" x2="217.1" y2="692.0" stroke="#000" stroke-width="1.7"/>
<line x1="232.9" y1="675.8" x2="232.9" y2="691.0" stroke="#000" stroke-width="1.7"/>
<line x1="226.8" y1="675.8" x2="239.0" y2="675.8" stroke="#000" stroke-width="1.7"/>
<line x1="226.8" y1="691.0" x2="239.0" y2="691.0" stroke="#000" stroke-width="1.7"/>
<line x1="276.2" y1="669.4" x2="276.2" y2="685.0" stroke="#000" stroke-width="1.7"/>
<line x1="270.1" y1="669.4" x2="282.3" y2="669.4" stroke="#000" stroke-width="1.7"/>
<line x1="270.1" y1="685.0" x2="282.3" y2="685.0" stroke="#000" stroke-width="1.7"/>
<line x1="308.8" y1="670.5" x2="308.8" y2="685.5" stroke="#000" stroke-width="1.7"/>
<line x1="302.7" y1="670.5" x2="314.9" y2="670.5" stroke="#000" stroke-width="1.7"/>
<line x1="302.7" y1="685.5" x2="314.9" y2="685.5" stroke="#000" stroke-width="1.7"/>
<line x1="352.5" y1="660.0" x2="352.5" y2="684.5" stroke="#000" stroke-width="1.7"/>
<line x1="346.4" y1="660.0" x2="358.6" y2="660.0" stroke="#000" stroke-width="1.7"/>
<line x1="346.4" y1="684.5" x2="358.6" y2="684.5" stroke="#000" stroke-width="1.7"/>
<polyline points="80.0,686.5 123.6,686.3 156.4,689.3 211.0,686.5 232.9,683.4 276.2,677.2 308.8,678.6 352.5,672.4" fill="none" stroke="#000" stroke-width="1.7"/>
<circle cx="80.0" cy="686.5" r="5.6" fill="#000"/>
<circle cx="123.6" cy="686.3" r="5.6" fill="#000"/>
<circle cx="156.4" cy="689.3" r="5.6" fill="#000"/>
<circle cx="211.0" cy="686.5" r="5.6" fill="#000"/>
<circle cx="232.9" cy="683.4" r="5.6" fill="#000"/>
<circle cx="276.2" cy="677.2" r="5.6" fill="#000"/>
<circle cx="308.8" cy="678.6" r="5.6" fill="#000"/>
<circle cx="352.5" cy="672.4" r="5.6" fill="#000"/>
<line x1="276.2" y1="685.0" x2="276.2" y2="696.2" stroke="#000" stroke-width="1.7"/>
<line x1="270.1" y1="685.0" x2="282.3" y2="685.0" stroke="#000" stroke-width="1.7"/>
<line x1="270.1" y1="696.2" x2="282.3" y2="696.2" stroke="#000" stroke-width="1.7"/>
<line x1="308.8" y1="685.0" x2="308.8" y2="695.8" stroke="#000" stroke-width="1.7"/>
<line x1="302.7" y1="685.0" x2="314.9" y2="685.0" stroke="#000" stroke-width="1.7"/>
<line x1="302.7" y1="695.8" x2="314.9" y2="695.8" stroke="#000" stroke-width="1.7"/>
<line x1="352.5" y1="685.0" x2="352.5" y2="696.8" stroke="#000" stroke-width="1.7"/>
<line x1="346.4" y1="685.0" x2="358.6" y2="685.0" stroke="#000" stroke-width="1.7"/>
<line x1="346.4" y1="696.8" x2="358.6" y2="696.8" stroke="#000" stroke-width="1.7"/>
<polyline points="80.0,687.8 123.6,688.4 156.4,692.0 211.0,691.0 232.9,691.2 276.2,691.2 308.8,690.8 352.5,691.6" fill="none" stroke="#000" stroke-width="1.7"/>
<path d="M80.0 681.1L86.7 687.8L80.0 694.5L73.3 687.8Z" fill="#000"/>
<path d="M123.6 681.7L130.3 688.4L123.6 695.1L116.9 688.4Z" fill="#000"/>
<path d="M156.4 685.3L163.1 692.0L156.4 698.7L149.7 692.0Z" fill="#000"/>
<path d="M211.0 684.3L217.7 691.0L211.0 697.7L204.3 691.0Z" fill="#000"/>
<path d="M232.9 684.5L239.6 691.2L232.9 697.9L226.2 691.2Z" fill="#000"/>
<path d="M276.2 684.5L282.9 691.2L276.2 697.9L269.5 691.2Z" fill="#000"/>
<path d="M308.8 684.1L315.5 690.8L308.8 697.5L302.1 690.8Z" fill="#000"/>
<path d="M352.5 684.9L359.2 691.6L352.5 698.3L345.8 691.6Z" fill="#000"/>
<rect x="377.9" y="526.7" width="9.4" height="9.4" fill="none" stroke="#000" stroke-width="1.5"/>
<text x="397.5" y="535.0" font-family="Liberation Sans, sans-serif" font-size="13" font-weight="bold" text-anchor="start" textLength="33.5" lengthAdjust="spacingAndGlyphs" >- PBS</text>
<path d="M382.7 562.6L388.6 568.5L382.7 574.4L376.8 568.5Z" fill="none" stroke="#000" stroke-width="1.5"/>
<text x="397.8" y="572.5" font-family="Liberation Sans, sans-serif" font-size="13" font-weight="bold" text-anchor="start" textLength="87.1" lengthAdjust="spacingAndGlyphs" >- Lenalidomide</text>
<circle cx="382.3" cy="604.2" r="4.8" fill="#000"/>
<text x="397.5" y="608.4" font-family="Liberation Sans, sans-serif" font-size="13.1" font-weight="bold" text-anchor="start" textLength="117.0" lengthAdjust="spacingAndGlyphs" >- 6 mg/kg XmAb5592</text>
<path d="M382.6 630.5L388.8 636.7L382.6 642.9L376.4 636.7Z" fill="#000"/>
<text x="397.5" y="641.7" font-family="Liberation Sans, sans-serif" font-size="13.1" font-weight="bold" text-anchor="start" textLength="117.0" lengthAdjust="spacingAndGlyphs" >- 6 mg/kg XmAb5592</text>
<text x="410.8" y="658.1" font-family="Liberation Sans, sans-serif" font-size="13.1" font-weight="bold" text-anchor="start" textLength="90.2" lengthAdjust="spacingAndGlyphs" >+ Lenalidomide</text>
</svg>
</body></html>
